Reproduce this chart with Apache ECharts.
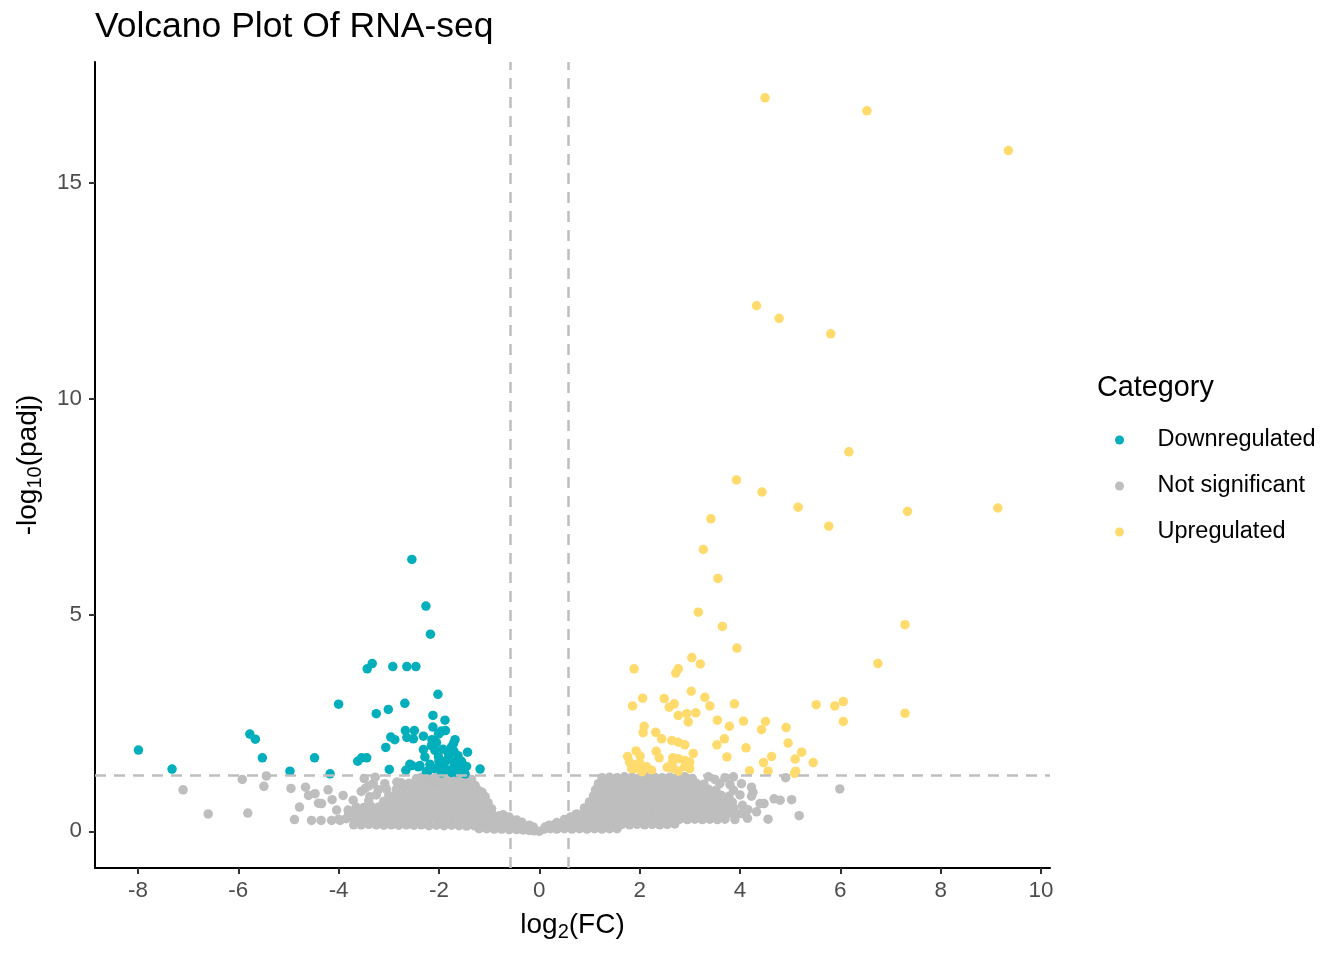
<!DOCTYPE html>
<html lang="en">
<head>
<meta charset="UTF-8">
<title>Volcano Plot Of RNA-seq</title>
<script src="https://cdn.jsdelivr.net/npm/echarts@6/dist/echarts.min.js"></script>
<style>
  html, body { margin: 0; padding: 0; background: #fff; }
  #chart { width: 1344px; height: 960px; }
</style>
</head>
<body>
<div id="chart"></div>
<script>
// ---- data: [log2FC, -log10(padj)] ----
var xTicks = [-8, -6, -4, -2, 0, 2, 4, 6, 8, 10];
var yTicks = [0, 5, 10, 15];
var fcCut = 0.585;    // log2(1.5)
var padjCut = 1.301;  // -log10(0.05)
var categories = ['Downregulated', 'Not significant', 'Upregulated'];

var downPoints = [
  [-2.54,6.29],[-2.26,5.21],[-2.17,4.56],[-3.43,3.76],[-3.33,3.88],[-2.92,3.81],[-2.64,3.81],[-2.46,3.81],
  [-2.02,3.17],[-4.0,2.94],[-2.68,2.96],[-3.01,2.82],[-3.25,2.72],[-2.12,2.68],[-1.88,2.57],[-2.12,2.41],
  [-1.87,2.33],[-1.95,2.32],[-2.49,2.33],[-2.64,2.17],[-2.96,2.18],[-2.88,2.12],[-2.31,2.2],[-2.14,2.12],
  [-1.68,2.12],[-1.43,1.83],[-3.06,1.94],[-2.31,1.89],[-2.08,1.87],[-1.75,1.95],[-5.77,2.25],[-5.66,2.13],
  [-5.52,1.7],[-7.99,1.88],[-7.32,1.44],[-4.97,1.39],[-4.48,1.7],[-4.17,1.33],[-3.62,1.62],[-3.54,1.7],
  [-3.44,1.7],[-2.99,1.43],[-2.66,1.41],[-2.58,1.55],[-2.41,1.49],[-2.21,1.41],[-1.18,1.44],[-1.85,1.64],
  [-1.68,1.6],[-1.58,1.53],[-2.01,1.72],[-1.81,1.8],[-1.95,1.49],[-1.78,1.41],[-1.48,1.33],[-2.28,1.72],
  [-2.51,2.14],[-1.71,2.03],[-2.18,1.55],[-1.95,1.35],[-1.85,1.4],[-1.75,1.36],[-1.65,1.36],[-1.6,1.45],
  [-1.7,1.5],[-1.9,1.55],[-2.0,1.62],[-1.8,1.7],[-1.7,1.85],[-1.62,1.75],[-1.55,1.62],[-2.1,1.45],
  [-2.25,1.38],[-1.5,1.38],[-1.45,1.5],[-2.54,1.52],[-2.38,1.52],[-2.01,2.25],[-1.98,2.28],[-2.67,2.33],
  [-2.05,2.05],[-1.92,1.9],[-2.15,1.98]
];

var upPoints = [
  [4.5,16.97],[6.53,16.67],[9.35,15.75],[4.33,12.16],[4.78,11.87],[5.81,11.51],[6.17,8.78],[3.93,8.13],
  [4.44,7.85],[5.16,7.5],[7.34,7.4],[9.14,7.48],[3.42,7.23],[5.77,7.06],[3.27,6.52],[3.56,5.85],
  [3.17,5.07],[3.65,4.74],[7.29,4.78],[3.94,4.24],[6.75,3.88],[1.89,3.76],[7.29,2.73],[3.04,4.02],
  [3.21,3.87],[2.77,3.76],[2.72,3.66],[3.03,3.24],[2.06,3.08],[2.49,3.07],[3.3,3.1],[1.86,2.9],
  [2.59,2.87],[2.69,2.95],[3.4,2.9],[3.89,2.95],[2.77,2.68],[2.94,2.72],[3.12,2.74],[2.97,2.53],
  [3.55,2.57],[3.79,2.43],[4.07,2.55],[4.51,2.54],[4.43,2.35],[4.92,2.4],[5.52,2.93],[5.89,2.9],
  [6.06,3.0],[6.06,2.54],[2.09,2.43],[2.07,2.28],[2.32,2.29],[2.44,2.14],[2.64,2.1],[2.77,2.06],
  [2.9,2.0],[3.54,2.0],[3.69,2.14],[4.12,1.93],[4.96,2.04],[5.23,1.83],[5.1,1.67],[5.46,1.59],
  [4.63,1.73],[4.47,1.59],[4.56,1.39],[5.11,1.39],[4.19,1.4],[3.74,1.72],[3.07,1.8],[2.33,1.85],
  [2.39,1.7],[1.93,1.86],[1.76,1.73],[2.01,1.74],[2.66,1.7],[2.77,1.68],[2.9,1.64],[3.0,1.6],
  [3.0,1.45],[2.01,1.56],[2.14,1.49],[1.84,1.45],[2.24,1.41],[2.67,1.45],[2.77,1.39],[1.8,1.6],
  [1.9,1.45],[2.05,1.38],[1.95,1.55],[2.65,1.58],[2.9,1.5],[2.55,1.48],[5.09,1.34]
];

var greyPoints = [
  // outliers, left
  [-7.1,0.96],[-6.6,0.4],[-5.81,0.42],[-5.92,1.2],[-5.44,1.28],[-5.49,1.04],[-4.95,0.99],[-4.78,0.56],
  [-4.88,0.27],[-4.54,0.25],[-4.35,0.25],[-4.66,1.02],[-4.6,0.83],[-4.47,0.87],[-4.34,0.64],[-4.21,0.96],
  [-4.13,0.73],[-3.91,0.83],[-3.71,0.72],[-3.49,1.22],[-3.27,1.25],[-3.31,1.1],[-3.21,0.96],[-3.47,0.99],
  [-4.14,0.25],[-3.97,0.25],[-4.04,0.49],[-3.81,0.49],[-3.08,1.1],[-2.84,1.14],[-3.55,0.92],[-3.38,0.8],
  [-3.4,1.05],[-2.45,1.22],[-4.4,0.65],
  // left cloud
  [-1.2,0.06],[-1.05,0.06],[-0.9,0.05],[-0.75,0.05],[-0.6,0.04],[-0.45,0.04],[-0.32,0.03],[-0.2,0.02],[-0.1,0.01],[0.0,0.0],
  [-3.7,0.15],[-3.55,0.15],[-3.4,0.16],[-3.25,0.15],[-3.1,0.14],[-2.95,0.15],[-2.8,0.14],[-2.65,0.15],
  [-2.5,0.14],[-2.35,0.15],[-2.2,0.13],[-2.05,0.14],[-1.9,0.13],[-1.75,0.14],[-1.6,0.13],[-1.45,0.12],
  [-1.3,0.13],[-1.15,0.12],[-1.0,0.12],[-0.85,0.11],[-0.7,0.1],[-0.55,0.1],[-0.4,0.09],[-0.28,0.08],
  [-4.0,0.28],[-3.85,0.29],[-3.7,0.28],[-3.55,0.27],[-3.4,0.29],[-3.25,0.28],[-3.1,0.27],[-2.95,0.28],
  [-2.8,0.29],[-2.65,0.28],[-2.5,0.27],[-2.35,0.28],[-2.2,0.29],[-2.05,0.28],[-1.9,0.27],[-1.75,0.28],
  [-1.6,0.28],[-1.45,0.27],[-1.3,0.28],[-1.15,0.27],[-1.0,0.26],[-0.85,0.25],[-0.7,0.24],[-0.55,0.22],
  [-3.8,0.42],[-3.65,0.41],[-3.5,0.43],[-3.35,0.42],[-3.2,0.41],[-3.05,0.42],[-2.9,0.43],[-2.75,0.42],
  [-2.6,0.41],[-2.45,0.42],[-2.3,0.43],[-2.15,0.42],[-2.0,0.41],[-1.85,0.42],[-1.7,0.43],[-1.55,0.42],
  [-1.4,0.41],[-1.25,0.42],[-1.1,0.41],[-0.95,0.4],[-0.8,0.36],
  [-3.65,0.56],[-3.5,0.55],[-3.35,0.57],[-3.2,0.56],[-3.05,0.55],[-2.9,0.56],[-2.75,0.57],[-2.6,0.56],
  [-2.45,0.55],[-2.3,0.56],[-2.15,0.57],[-2.0,0.56],[-1.85,0.55],[-1.7,0.56],[-1.55,0.57],[-1.4,0.56],
  [-1.25,0.55],[-1.1,0.55],[-0.95,0.52],
  [-3.4,0.7],[-3.1,0.69],[-2.95,0.71],[-2.8,0.7],[-2.65,0.69],[-2.5,0.7],[-2.35,0.71],[-2.2,0.7],
  [-2.05,0.69],[-1.9,0.7],[-1.75,0.71],[-1.6,0.7],[-1.45,0.69],[-1.3,0.7],[-1.15,0.69],[-1.02,0.66],
  [-3.25,0.84],[-3.0,0.83],[-2.85,0.85],[-2.7,0.84],[-2.55,0.83],[-2.4,0.84],[-2.25,0.85],[-2.1,0.84],
  [-1.95,0.83],[-1.8,0.84],[-1.65,0.85],[-1.5,0.84],[-1.35,0.83],[-1.2,0.82],[-1.08,0.8],
  [-3.05,0.98],[-2.85,0.97],[-2.7,0.99],[-2.55,0.98],[-2.4,0.97],[-2.25,0.98],[-2.1,0.99],[-1.95,0.98],
  [-1.8,0.97],[-1.65,0.98],[-1.5,0.99],[-1.35,0.97],[-1.22,0.95],[-1.14,0.9],
  [-2.75,1.12],[-2.6,1.11],[-2.45,1.13],[-2.3,1.12],[-2.15,1.11],[-2.0,1.12],[-1.85,1.13],[-1.7,1.12],
  [-1.55,1.11],[-1.4,1.1],[-1.28,1.06],
  [-2.35,1.25],[-2.2,1.26],[-2.05,1.25],[-1.9,1.27],[-1.75,1.26],[-1.6,1.25],[-1.45,1.24],[-1.35,1.2],
  // around zero
  [-0.72,0.38],[-0.6,0.33],[-0.45,0.26],[-0.35,0.21],[-0.2,0.14],[-0.12,0.1],[0.12,0.1],[0.2,0.14],
  [0.35,0.2],[0.5,0.27],[0.62,0.33],[0.72,0.38],
  // right cloud
  [0.1,0.05],[0.22,0.06],[0.35,0.05],[0.5,0.06],[0.65,0.05],[0.8,0.06],[0.95,0.05],[1.1,0.06],[1.25,0.05],[1.4,0.06],[1.55,0.06],
  [0.3,0.15],[0.45,0.16],[0.6,0.15],[0.75,0.16],[0.9,0.15],[1.05,0.16],[1.2,0.15],[1.35,0.16],[1.5,0.15],
  [1.65,0.16],[1.8,0.15],[1.95,0.16],[2.1,0.15],[2.25,0.16],[2.4,0.15],[2.55,0.16],[2.7,0.17],
  [0.55,0.27],[0.7,0.28],[0.85,0.27],[1.0,0.28],[1.15,0.27],[1.3,0.28],[1.45,0.27],[1.6,0.28],[1.75,0.27],
  [1.9,0.28],[2.05,0.27],[2.2,0.28],[2.35,0.27],[2.5,0.28],[2.65,0.27],[2.8,0.28],[2.95,0.27],[3.1,0.28],
  [3.25,0.27],[3.4,0.28],[3.55,0.27],[3.7,0.28],
  [0.75,0.4],[0.9,0.41],[1.05,0.4],[1.2,0.41],[1.35,0.4],[1.5,0.41],[1.65,0.4],[1.8,0.41],[1.95,0.4],
  [2.1,0.41],[2.25,0.4],[2.4,0.41],[2.55,0.4],[2.7,0.41],[2.85,0.4],[3.0,0.41],[3.15,0.4],[3.3,0.41],
  [3.45,0.4],[3.6,0.41],[3.75,0.4],[3.9,0.39],
  [0.9,0.54],[1.05,0.55],[1.2,0.54],[1.35,0.55],[1.5,0.54],[1.65,0.55],[1.8,0.54],[1.95,0.55],[2.1,0.54],
  [2.25,0.55],[2.4,0.54],[2.55,0.55],[2.7,0.54],[2.85,0.55],[3.0,0.54],[3.15,0.55],[3.3,0.54],[3.45,0.55],
  [3.6,0.54],[3.75,0.55],[3.88,0.53],
  [1.0,0.68],[1.15,0.69],[1.3,0.68],[1.45,0.69],[1.6,0.68],[1.75,0.69],[1.9,0.68],[2.05,0.69],[2.2,0.68],
  [2.35,0.69],[2.5,0.68],[2.65,0.69],[2.8,0.68],[2.95,0.69],[3.1,0.68],[3.25,0.69],[3.4,0.68],[3.55,0.69],
  [3.7,0.68],[3.85,0.67],
  [1.08,0.82],[1.23,0.83],[1.38,0.82],[1.53,0.83],[1.68,0.82],[1.83,0.83],[1.98,0.82],[2.13,0.83],[2.28,0.82],
  [2.43,0.83],[2.58,0.82],[2.73,0.83],[2.88,0.82],[3.03,0.83],[3.18,0.82],[3.33,0.83],[3.48,0.82],[3.63,0.83],[3.78,0.81],
  [1.12,0.96],[1.27,0.97],[1.42,0.96],[1.57,0.97],[1.72,0.96],[1.87,0.97],[2.02,0.96],[2.17,0.97],[2.32,0.96],
  [2.47,0.97],[2.62,0.96],[2.77,0.97],[2.92,0.96],[3.07,0.97],[3.22,0.96],[3.37,0.97],[3.52,0.95],
  [1.18,1.1],[1.33,1.11],[1.48,1.1],[1.63,1.11],[1.78,1.1],[1.93,1.11],[2.08,1.1],[2.23,1.11],[2.38,1.1],
  [2.53,1.11],[2.68,1.1],[2.83,1.11],[2.98,1.1],[3.13,1.11],[3.28,1.09],
  [1.25,1.24],[1.4,1.25],[1.55,1.24],[1.7,1.26],[1.85,1.25],[2.0,1.24],[2.15,1.26],[2.3,1.25],[2.45,1.24],[2.6,1.25],[2.75,1.24],
  // outliers, right
  [2.9,1.26],[3.05,1.22],[3.37,1.26],[3.5,1.2],[3.7,1.24],[3.87,1.26],[3.6,1.1],[3.8,1.08],[4.03,1.1],
  [3.87,0.95],[4.23,1.02],[4.0,0.84],[4.23,0.81],[4.05,0.6],[4.48,0.64],[4.68,0.75],[4.8,0.72],[5.03,0.73],
  [4.33,0.45],[4.03,0.41],[4.56,0.28],[5.18,0.36],[5.99,0.98],[4.91,1.24],[3.9,0.27],[4.15,0.3],[4.26,0.9],
  [4.4,0.64],[4.16,0.5]
];

var chart = echarts.init(document.getElementById('chart'));

var fontFam = 'Liberation Sans, Arial, sans-serif';
var nameRich = {
  a: { fontSize: 28, color: '#000', lineHeight: 34, verticalAlign: 'middle', fontFamily: fontFam },
  s: { fontSize: 20, color: '#000', lineHeight: 18, verticalAlign: 'bottom', fontFamily: fontFam }
};

var option = {
  animation: false,
  backgroundColor: '#fff',
  title: [
    {
      text: 'Volcano Plot Of RNA-seq',
      left: 95, top: 9, padding: 0,
      textStyle: { fontSize: 35.5, fontWeight: 'normal', color: '#000', fontFamily: fontFam }
    },
    {
      text: 'Category',
      left: 1097, top: 374, padding: 0,
      textStyle: { fontSize: 28.8, fontWeight: 'normal', color: '#000', fontFamily: fontFam }
    }
  ],
  legend: {
    data: categories,
    orient: 'vertical',
    left: 1115, top: 428,
    padding: 0,
    icon: 'circle',
    itemWidth: 40, itemHeight: 9,
    itemGap: 22,
    selectedMode: false,
    textStyle: { fontSize: 23.5, color: '#000', lineHeight: 24, padding: [0, 0, 0, 13], fontFamily: fontFam }
  },
  grid: { left: 95, right: 294, top: 62, bottom: 92, containLabel: false },
  xAxis: {
    type: 'value',
    min: -8.856, max: 10.18,
    name: '{a|log}{s|2}{a|(FC)}',
    nameLocation: 'middle',
    nameGap: 40,
    nameTextStyle: { rich: nameRich },
    axisLine: { onZero: false, lineStyle: { color: '#000', width: 2 } },
    axisTick: { length: 6, customValues: xTicks, lineStyle: { color: '#333', width: 2 } },
    axisLabel: { customValues: xTicks, margin: 12, color: '#4d4d4d', fontSize: 22.4, fontFamily: fontFam },
    splitLine: { show: false }
  },
  yAxis: {
    type: 'value',
    min: -0.85, max: 17.8,
    name: '{a|-log}{s|10}{a|(padj)}',
    nameLocation: 'middle',
    nameRotate: 90,
    nameGap: 50,
    nameTextStyle: { rich: nameRich },
    axisLine: { show: true, onZero: false, lineStyle: { color: '#000', width: 2 } },
    axisTick: { show: true, length: 6, customValues: yTicks, lineStyle: { color: '#333', width: 2 } },
    axisLabel: { customValues: yTicks, margin: 13, color: '#4d4d4d', fontSize: 22.4, fontFamily: fontFam },
    splitLine: { show: false }
  },
  series: [
    {
      name: 'Not significant', type: 'scatter', data: greyPoints,
      symbolSize: 9.5, itemStyle: { color: '#bebebe', opacity: 1 }, silent: true
    },
    {
      name: 'Downregulated', type: 'scatter', data: downPoints,
      symbolSize: 9.5, itemStyle: { color: '#00afbb', opacity: 1 }, silent: true
    },
    {
      name: 'Upregulated', type: 'scatter', data: upPoints,
      symbolSize: 9.5, itemStyle: { color: '#ffdb6d', opacity: 1 }, silent: true
    },
    {
      name: 'cutoffs', type: 'scatter', data: [], silent: true, z: 5,
      markLine: {
        silent: true, symbol: 'none', animation: false,
        label: { show: false },
        lineStyle: { color: '#bebebe', width: 2.5, type: [11, 8], opacity: 1 },
        data: [{ xAxis: -fcCut }, { xAxis: fcCut }, { yAxis: padjCut }]
      }
    }
  ]
};

chart.setOption(option);
</script>
</body>
</html>
